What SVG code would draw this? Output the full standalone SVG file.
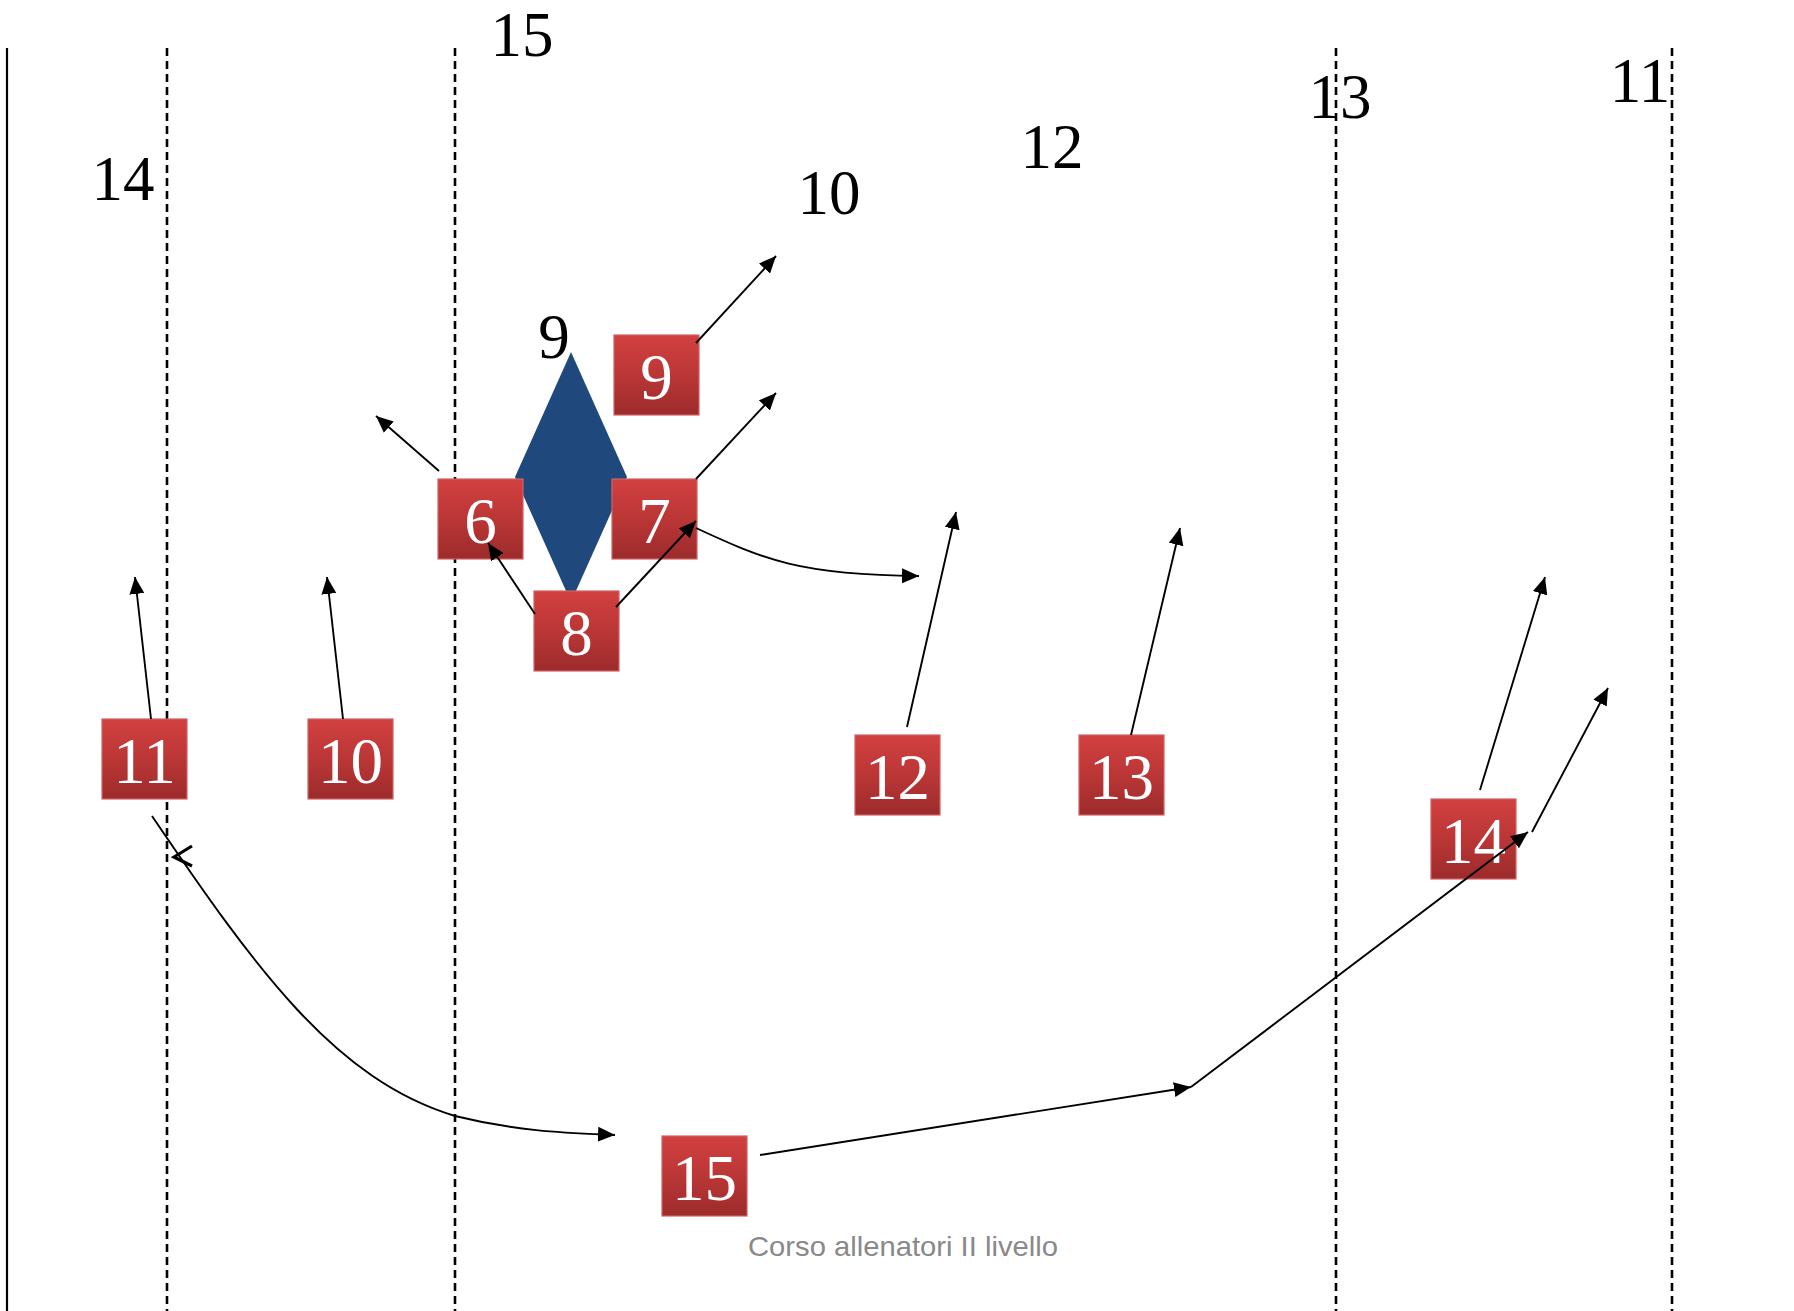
<svg xmlns="http://www.w3.org/2000/svg" width="1794" height="1311" viewBox="0 0 1794 1311">
<defs>
<linearGradient id="redg" x1="0" y1="0" x2="0" y2="1">
<stop offset="0" stop-color="#d24040"/>
<stop offset="0.5" stop-color="#bb3636"/>
<stop offset="1" stop-color="#9c2b2b"/>
</linearGradient>
<marker id="ah" viewBox="0 0 17 15" refX="17" refY="7.5" markerWidth="17" markerHeight="15" markerUnits="userSpaceOnUse" orient="auto">
<path d="M0,0 L17,7.5 L0,15 z" fill="#000"/>
</marker>
<style>
.bg{fill:#fff}
.dash{stroke:#000;stroke-width:2.6;stroke-dasharray:8 5;fill:none}
.solid{stroke:#000;stroke-width:2.2;fill:none}
.lbl{font-family:"Liberation Serif","Times New Roman",serif;font-size:63px;fill:#000;text-anchor:middle}
.box{fill:url(#redg);stroke:#d26262;stroke-width:1.2}
.num{font-family:"Liberation Serif","Times New Roman",serif;font-size:65px;fill:#fff;text-anchor:middle}
.conn{stroke:#000;stroke-width:1.9;fill:none;marker-end:url(#ah)}
.foot{font-family:"Liberation Sans",Arial,sans-serif;font-size:28px;fill:#898989}
</style>
</defs>
<rect class="bg" x="0" y="0" width="1794" height="1311"/>
<g id="field">
<line class="solid" x1="7" y1="48" x2="7" y2="1311"/>
<line class="dash" x1="167" y1="48" x2="167" y2="1311"/>
<line class="dash" x1="455" y1="48" x2="455" y2="1311"/>
<line class="dash" x1="1336" y1="48" x2="1336" y2="1311"/>
<line class="dash" x1="1672" y1="48" x2="1672" y2="1311"/>
</g>
<g id="labels">
<text class="lbl" x="522" y="56">15</text>
<text class="lbl" x="123" y="200">14</text>
<text class="lbl" x="1340" y="118">13</text>
<text class="lbl" x="1640" y="102">11</text>
<text class="lbl" x="1052" y="168">12</text>
<text class="lbl" x="829" y="214">10</text>
<text class="lbl" x="554" y="358">9</text>
</g>
<g id="diamond">
<polygon points="571,352 627,477 571,602 515,477" fill="#1f497d"/>
</g>
<g id="n9"><rect class="box" x="614" y="335" width="85" height="80"/><text class="num" x="656.5" y="399">9</text></g>
<g id="n6"><rect class="box" x="438" y="479" width="85" height="80"/><text class="num" x="480.5" y="543">6</text></g>
<g id="n7"><rect class="box" x="612" y="479" width="85" height="80"/><text class="num" x="654.5" y="543">7</text></g>
<g id="n8"><rect class="box" x="534" y="591" width="85" height="80"/><text class="num" x="576.5" y="655">8</text></g>
<g id="n11"><rect class="box" x="102" y="719" width="85" height="80"/><text class="num" x="144.5" y="783">11</text></g>
<g id="n10"><rect class="box" x="308" y="719" width="85" height="80"/><text class="num" x="350.5" y="783">10</text></g>
<g id="n12"><rect class="box" x="855" y="735" width="85" height="80"/><text class="num" x="897.5" y="799">12</text></g>
<g id="n13"><rect class="box" x="1079" y="735" width="85" height="80"/><text class="num" x="1121.5" y="799">13</text></g>
<g id="n14"><rect class="box" x="1431" y="799" width="85" height="80"/><text class="num" x="1473.5" y="863">14</text></g>
<g id="n15"><rect class="box" x="662" y="1136" width="85" height="80"/><text class="num" x="704.5" y="1200">15</text></g>
<g id="connectors">
<line class="conn" x1="696" y1="343" x2="776" y2="256"/>
<line class="conn" x1="439" y1="471" x2="376" y2="416"/>
<line class="conn" x1="696" y1="479" x2="776" y2="393"/>
<path class="conn" d="M696,528 C765,560 800,575 919,576"/>
<line class="conn" x1="535" y1="614" x2="488" y2="543"/>
<line class="conn" x1="616" y1="607" x2="696" y2="521"/>
<line class="conn" x1="151" y1="719" x2="135" y2="577"/>
<line class="conn" x1="343" y1="719" x2="327" y2="577"/>
<line class="conn" x1="907" y1="727" x2="956" y2="512"/>
<line class="conn" x1="1131" y1="735" x2="1180" y2="528"/>
<line class="conn" x1="1480" y1="790" x2="1545" y2="577"/>
<line class="conn" x1="1532" y1="832" x2="1608" y2="688"/>
<path class="conn" d="M152,816 C255,968 335,1080 455,1116 C520,1132 570,1133 615,1135"/>
<polyline points="192,846 174,857 192,866" fill="none" stroke="#000" stroke-width="3.2"/>
<line class="conn" x1="760" y1="1155" x2="1191" y2="1087"/>
<line class="conn" x1="1191" y1="1087" x2="1528" y2="832"/>
</g>
<g id="footer"><text class="foot" x="748" y="1256" textLength="310" lengthAdjust="spacingAndGlyphs">Corso allenatori II livello</text></g>
</svg>
